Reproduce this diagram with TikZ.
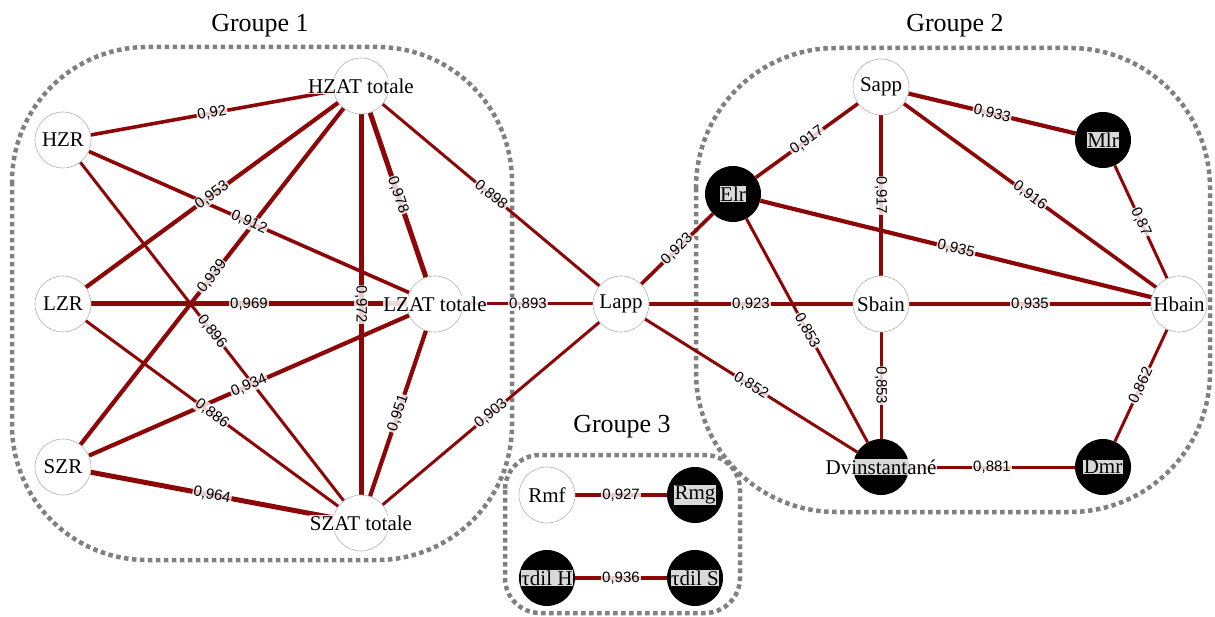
\documentclass[tikz,border=0pt]{standalone}
\usepackage{fontspec}
\setmainfont{Liberation Serif}
\newfontfamily\edgefont{Liberation Sans}
\definecolor{edgered}{RGB}{140,8,8}
\definecolor{groupgray}{RGB}{128,128,128}
\pgfdeclarelayer{groups}
\pgfdeclarelayer{links}
\pgfsetlayers{groups,links,main}
% one correlation: line below the nodes, value on top of all lines
\newcommand\corr[4]{%
  \begin{pgfonlayer}{links}\draw[#1] (#2) -- (#3);\end{pgfonlayer}
  \path (#2) -- node[elbl]{#4} (#3);}

\begin{document}
\begin{tikzpicture}[
  x=1pt, y=-1pt,
  vnode/.style={circle, minimum size=56pt, inner sep=0pt},
  wnode/.style={vnode, draw=black!30, line width=0.6pt, fill=white},
  bnode/.style={vnode, fill=black},
  nlbl/.style={font=\fontsize{21}{23}\selectfont, fill=white, fill opacity=0.85, text opacity=1, inner sep=0.5pt},
  elbl/.style={font=\edgefont\fontsize{15}{15}\selectfont, fill=white, fill opacity=0.8, text opacity=1, inner sep=1pt, sloped},
  link/.style={draw=edgered},
  e1/.style={link, line width=3pt},
  e2/.style={link, line width=3.6pt},
  e3/.style={link, line width=4.2pt},
  e4/.style={link, line width=5pt},
  groupbox/.style={draw=groupgray, line width=4.5pt, dash pattern=on 4.5pt off 3.5pt},
  grouptitle/.style={font=\fontsize{26}{28}\selectfont}
]
\useasboundingbox (0,0) rectangle (1215,617);

% Groupe 1
\node[wnode, label={[nlbl]center:HZAT totale}] (hzat) at (361,86) {};
\node[wnode, label={[nlbl]center:HZR}] (hzr) at (63,140) {};
\node[wnode, label={[nlbl]center:LZR}] (lzr) at (63,304) {};
\node[wnode, label={[nlbl]center:SZR}] (szr) at (63,467) {};
\node[wnode, label={[nlbl]center:LZAT totale}] (lzat) at (435,304) {};
\node[wnode, label={[nlbl]center:SZAT totale}] (szat) at (361,523) {};
\node[wnode, label={[nlbl]center:Lapp}] (lapp) at (621,304) {};

% Groupe 2
\node[wnode, label={[nlbl]center:Sapp}] (sapp) at (881,87) {};
\node[bnode, label={[nlbl]center:Mlr}] (mlr) at (1103,140) {};
\node[bnode, label={[nlbl]center:Elr}] (elr) at (733,194) {};
\node[wnode, label={[nlbl]center:Sbain}] (sbain) at (881,304) {};
\node[wnode, label={[nlbl]center:Hbain}] (hbain) at (1179,304) {};
\node[bnode, label={[nlbl]center:Dvinstantané}] (dvin) at (881,467) {};
\node[bnode, label={[nlbl]center:Dmr}] (dmr) at (1103,467) {};

% Groupe 3
\node[wnode, label={[nlbl]center:Rmf}] (rmf) at (547,495) {};
\node[bnode, label={[nlbl]center:Rmg}] (rmg) at (695,495) {};
\node[bnode, label={[nlbl]center:τdil H}] (tdilh) at (547,578) {};
\node[bnode, label={[nlbl]center:τdil S}] (tdils) at (695,578) {};

\node[grouptitle] (g1) at (260,26) {Groupe 1};
\node[grouptitle] (g2) at (955,26) {Groupe 2};
\node[grouptitle] (g3) at (622,427) {Groupe 3};

\begin{pgfonlayer}{groups}
\draw[groupbox, rounded corners=135pt] (12,47) rectangle (512,560);
\draw[groupbox, rounded corners=140pt] (696,48) rectangle (1210,512);
\draw[groupbox, rounded corners=35pt] (505,455) rectangle (740,613);
\end{pgfonlayer}

\corr{e2}{hzr}{hzat}{0,92}
\corr{e2}{hzr}{lzat}{0,912}
\corr{e1}{hzr}{szat}{0,896}
\corr{e3}{lzr}{hzat}{0,953}
\corr{e4}{lzr}{lzat}{0,969}
\corr{e1}{lzr}{szat}{0,886}
\corr{e3}{szr}{hzat}{0,939}
\corr{e3}{szr}{lzat}{0,934}
\corr{e4}{szr}{szat}{0,964}
\corr{e4}{hzat}{lzat}{0,978}
\corr{e4}{hzat}{szat}{0,972}
\corr{e3}{lzat}{szat}{0,951}
\corr{e1}{hzat}{lapp}{0,898}
\corr{e1}{lzat}{lapp}{0,893}
\corr{e1}{szat}{lapp}{0,903}

\corr{e2}{lapp}{elr}{0,923}
\corr{e2}{lapp}{sbain}{0,923}
\corr{e1}{lapp}{dvin}{0,852}
\corr{e2}{elr}{sapp}{0,917}
\corr{e3}{elr}{hbain}{0,935}
\corr{e1}{elr}{dvin}{0,853}
\corr{e2}{sapp}{sbain}{0,917}
\corr{e3}{sapp}{mlr}{0,933}
\corr{e2}{sapp}{hbain}{0,916}
\corr{e1}{mlr}{hbain}{0,87}
\corr{e3}{sbain}{hbain}{0,935}
\corr{e1}{sbain}{dvin}{0,853}
\corr{e1}{hbain}{dmr}{0,862}
\corr{e1}{dvin}{dmr}{0,881}

\corr{e2}{rmf}{rmg}{0,927}
\corr{e3}{tdilh}{tdils}{0,936}
\end{tikzpicture}
\end{document}
